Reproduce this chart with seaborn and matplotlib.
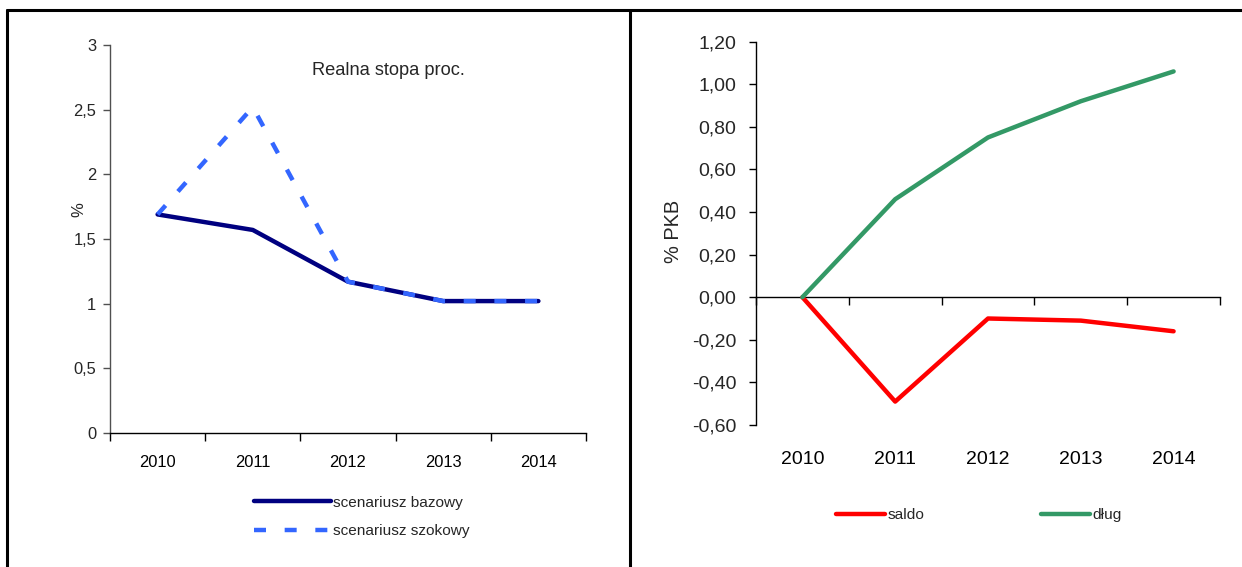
import matplotlib
matplotlib.use("Agg")
import matplotlib.pyplot as plt
from matplotlib import font_manager
from matplotlib.lines import Line2D
from matplotlib.ticker import FuncFormatter, FixedLocator
import numpy as np
import pandas as pd
import seaborn as sns

# ---- data ----
years = [2010, 2011, 2012, 2013, 2014]
stopa_bazowy = [1.69, 1.57, 1.17, 1.02, 1.02]
stopa_szokowy = [1.69, 2.52, 1.17, 1.02, 1.02]
saldo = [0.00, -0.49, -0.10, -0.11, -0.16]
dlug = [0.00, 0.46, 0.75, 0.92, 1.06]

left_series = ["scenariusz bazowy", "scenariusz szokowy"]
right_series = ["saldo", "dług"]
left_yticks = [0, 0.5, 1, 1.5, 2, 2.5, 3]
right_yticks = [-0.60, -0.40, -0.20, 0.00, 0.20, 0.40, 0.60, 0.80, 1.00, 1.20]

df_left = pd.DataFrame({
    "rok": years * 2,
    "wartosc": stopa_bazowy + stopa_szokowy,
    "scenariusz": [left_series[0]] * len(years) + [left_series[1]] * len(years),
})
df_right = pd.DataFrame({
    "rok": years * 2,
    "wartosc": saldo + dlug,
    "seria": [right_series[0]] * len(years) + [right_series[1]] * len(years),
})

# ---- style ----
sns.set_style("white")


def has_font(name):
    try:
        font_manager.findfont(name, fallback_to_default=False)
        return True
    except Exception:
        return False


narrow = has_font("Liberation Sans Narrow")
family = ["Liberation Sans Narrow", "Liberation Sans", "DejaVu Sans"] if narrow else ["Liberation Sans", "DejaVu Sans"]
plt.rcParams["font.family"] = family
plt.rcParams["axes.unicode_minus"] = False
k = 1.0 if narrow else 0.85

W, H = 1242, 567
fig = plt.figure(figsize=(W / 100, H / 100), dpi=100)


def fx(px):
    return px / W


def fy(py):
    return 1 - py / H


# outer frame and divider
fig.add_artist(Line2D([fx(7), fx(7)], [fy(10), fy(567)], color="black", lw=2.2))
fig.add_artist(Line2D([fx(7), fx(1242)], [fy(10), fy(10)], color="black", lw=2.2))
fig.add_artist(Line2D([fx(630), fx(630)], [fy(10), fy(567)], color="black", lw=2.2))

boundaries = [y - 0.5 for y in years] + [years[-1] + 0.5]
axis_gray = "#505050"

# ---- left panel ----
axL = fig.add_axes([fx(110), fy(433), fx(586) - fx(110), fy(45) - fy(433)])
sns.lineplot(
    data=df_left, x="rok", y="wartosc", hue="scenariusz", style="scenariusz",
    hue_order=left_series, style_order=left_series,
    palette={left_series[0]: "#000080", left_series[1]: "#3366FF"},
    dashes={left_series[0]: "", left_series[1]: (2.7, 4.2)},
    linewidth=3.2, legend=False, ax=axL, sort=False,
)
for ln in axL.get_lines():
    if ln.get_linestyle() == "-":
        ln.set_solid_capstyle("round")
        ln.set_solid_joinstyle("round")
        ln.set_zorder(2)
    else:
        ln.set_dash_capstyle("butt")
        ln.set_zorder(3)

axL.set_xlim(boundaries[0], boundaries[-1])
axL.set_ylim(0, 3)
axL.set_yticks(left_yticks)
axL.yaxis.set_major_formatter(FuncFormatter(lambda v, p: f"{v:g}".replace(".", ",")))
axL.set_xticks(years)
axL.set_xticklabels([str(y) for y in years])
axL.xaxis.set_minor_locator(FixedLocator(boundaries))
axL.tick_params(axis="x", which="major", length=0, pad=16, labelsize=14 * k, colors="black")
axL.tick_params(axis="x", which="minor", length=6, width=1, direction="out", color="black", bottom=True)
axL.tick_params(axis="y", length=5, width=1, direction="out", color=axis_gray, pad=5, labelsize=14 * k, left=True)
for s in ["top", "right"]:
    axL.spines[s].set_visible(False)
axL.spines["left"].set_color(axis_gray)
axL.spines["bottom"].set_color("black")
axL.spines["left"].set_linewidth(1)
axL.spines["bottom"].set_linewidth(1)
axL.set_xlabel("")
axL.set_ylabel("%", fontsize=12)
axL.yaxis.set_label_coords(-0.05, 0.575)
axL.text(0.586, 0.933, "Realna stopa proc.", transform=axL.transAxes,
         ha="center", va="center", fontsize=15.5 * k)

handlesL = [axL.get_lines()[0], axL.get_lines()[1]]
legL = fig.legend(
    handlesL, left_series, loc="center left", bbox_to_anchor=(fx(254), fy(517)),
    frameon=False, fontsize=13 * k, handlelength=5.0, handletextpad=0.15,
    borderpad=0, borderaxespad=0, labelspacing=0.95,
)

# ---- right panel ----
axR = fig.add_axes([fx(756), fy(425), fx(1220) - fx(756), fy(41.6) - fy(425)])
sns.lineplot(
    data=df_right, x="rok", y="wartosc", hue="seria",
    hue_order=right_series,
    palette={right_series[0]: "#FF0000", right_series[1]: "#339966"},
    linewidth=3.2, legend=False, ax=axR, sort=False,
)
for ln in axR.get_lines():
    ln.set_solid_capstyle("round")
    ln.set_solid_joinstyle("round")

ymin, ymax = right_yticks[0], right_yticks[-1]
axR.set_xlim(boundaries[0], boundaries[-1])
axR.set_ylim(ymin, ymax)
axR.set_yticks(right_yticks)
axR.yaxis.set_major_formatter(FuncFormatter(lambda v, p: f"{v:.2f}".replace(".", ",")))
axR.set_xticks(years)
axR.set_xticklabels([str(y) for y in years])
axR.tick_params(axis="x", which="major", length=0, pad=19, labelsize=16.5 * k, colors="black")
axR.tick_params(axis="y", length=5, width=1, direction="out", color="black", pad=9, labelsize=16.5 * k, left=True)
for s in ["top", "right", "bottom"]:
    axR.spines[s].set_visible(False)
axR.spines["left"].set_color("black")
axR.spines["left"].set_linewidth(1)

# horizontal axis drawn along the zero line, with category boundary ticks
zero_frac = (0 - ymin) / (ymax - ymin)
sec = axR.secondary_xaxis(zero_frac)
sec.set_xticks(boundaries)
sec.set_xticklabels([""] * len(boundaries))
sec.tick_params(axis="x", length=6, width=1, direction="out", color="black")
sec.spines["bottom"].set_color("black")
sec.spines["bottom"].set_linewidth(1)

axR.set_xlabel("")
axR.set_ylabel("% PKB", fontsize=17 * k)
axR.yaxis.set_label_coords(-0.157, 0.506)

legR = fig.legend(
    axR.get_lines()[:2], right_series, loc="center left", bbox_to_anchor=(fx(836), fy(515)),
    frameon=False, fontsize=13 * k, handlelength=3.2, handletextpad=0.15, ncol=2,
    columnspacing=7.6, borderpad=0, borderaxespad=0,
)

fig.savefig("out.png", dpi=100)
